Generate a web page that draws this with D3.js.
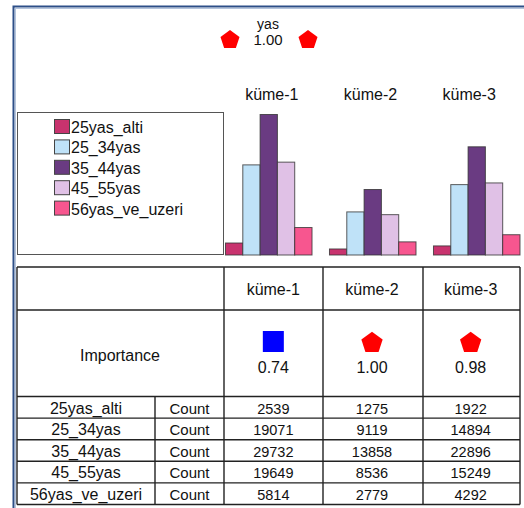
<!DOCTYPE html>
<html><head><meta charset="utf-8">
<script src="https://cdn.jsdelivr.net/npm/d3@7"></script>
<style>body{margin:0;background:#fff}text{font-family:"Liberation Sans",Arial,sans-serif;fill:#111}</style>
</head><body>
<svg id="c" width="524" height="508"></svg>
<script>
// ---- data ----
const variableName = "yas";
const overallImportance = 1.00;
const clusters = ["küme-1", "küme-2", "küme-3"];
const categories = ["25yas_alti", "25_34yas", "35_44yas", "45_55yas", "56yas_ve_uzeri"];
const count25alti = [2539, 1275, 1922];
const count25_34 = [19071, 9119, 14894];
const count35_44 = [29732, 13858, 22896];
const count45_55 = [19649, 8536, 15249];
const count56uzeri = [5814, 2779, 4292];
const importance = [0.74, 1.00, 0.98];
const importanceShape = ["square", "pentagon", "pentagon"];
const statLabel = "Count";
const colors = ["#c8336e", "#bfe2f8", "#6a3b82", "#e0c1e6", "#f7568f"];

const series = [count25alti, count25_34, count35_44, count45_55, count56uzeri];

const svg = d3.select("#c");

// outer frame
svg.append("rect").attr("x", 13.5).attr("y", 6.5).attr("width", 600).attr("height", 600)
  .attr("fill", "none").attr("stroke", "#2d4f88").attr("stroke-width", 2);
svg.append("rect").attr("x", 15.5).attr("y", 8.5).attr("width", 600).attr("height", 600)
  .attr("fill", "none").attr("stroke", "#b4c4dc").attr("stroke-width", 1);

function pentagon(cx, cy, r) {
  const pts = d3.range(5).map(i => {
    const a = -Math.PI / 2 + i * 2 * Math.PI / 5;
    return [cx + r * Math.cos(a), cy + r * Math.sin(a)];
  });
  return d3.line()(pts) + "Z";
}

// header: variable name + overall importance
svg.append("text").attr("x", 268).attr("y", 29).attr("text-anchor", "middle")
  .style("font-size", "14px").text(variableName);
svg.append("text").attr("x", 268).attr("y", 45).attr("text-anchor", "middle")
  .style("font-size", "15px").text(overallImportance.toFixed(2));
[230, 308].forEach(cx => svg.append("path").attr("d", pentagon(cx, 40, 10)).attr("fill", "#ff0000"));

// table columns
const colX = d3.scaleBand().domain(clusters).range([224, 520]);
const rowTop = 267, headerBottom = 310, impBottom = 396.5, rowH = 21.6;
const rowY = d3.scaleBand().domain(categories).range([impBottom, impBottom + rowH * categories.length]);

// cluster labels above bars
svg.selectAll(".cl").data(clusters).join("text")
  .attr("x", d => colX(d) + colX.bandwidth() / 2 - 1.5).attr("y", 100)
  .attr("text-anchor", "middle").style("font-size", "16px").text(d => d);

// legend box
svg.append("rect").attr("x", 17.5).attr("y", 112.5).attr("width", 206).attr("height", 142)
  .attr("fill", "#fff").attr("stroke", "#555").attr("stroke-width", 1);
const lg = svg.selectAll(".lg").data(categories).join("g")
  .attr("transform", (d, i) => `translate(0,${i * 20.4})`);
lg.append("rect").attr("x", 54.5).attr("y", 119.5).attr("width", 15).attr("height", 14)
  .attr("fill", (d, i) => colors[i]).attr("stroke", "#444").attr("stroke-width", 1);
lg.append("text").attr("x", 71).attr("y", 133).style("font-size", "16px").text(d => d);

// bars
const x0 = d3.scaleBand().domain(clusters).range([225, 519.5]).paddingInner(0.168);
const x1 = d3.scaleBand().domain(categories).range([0, x0.bandwidth()]);
const y = d3.scaleLinear().domain([0, d3.max(series.flat())]).range([254.5, 114]);
clusters.forEach((c, ci) => {
  svg.selectAll(null).data(categories).join("rect")
    .attr("x", d => x0(c) + x1(d) + 0.5)
    .attr("y", (d, i) => y(series[i][ci]) + 0.5)
    .attr("width", x1.bandwidth())
    .attr("height", (d, i) => y(0) - y(series[i][ci]))
    .attr("fill", (d, i) => colors[i])
    .attr("stroke", "#333").attr("stroke-opacity", 0.8).attr("stroke-width", 1);
});

// table grid
const tbl = svg.append("g").attr("stroke", "#222").attr("stroke-width", 1.4);
const tableBottom = impBottom + rowH * categories.length;
const hl = [rowTop, headerBottom, impBottom].concat(categories.map(c => rowY(c) + rowH));
hl.forEach(yy => tbl.append("line").attr("x1", 17).attr("x2", 520).attr("y1", yy).attr("y2", yy));
[17, 224, 323, 423, 520].forEach(xx => tbl.append("line").attr("x1", xx).attr("x2", xx).attr("y1", rowTop).attr("y2", tableBottom));
tbl.append("line").attr("x1", 155).attr("x2", 155).attr("y1", impBottom).attr("y2", tableBottom);

// header row
svg.selectAll(".th").data(clusters).join("text")
  .attr("x", d => colX(d) + colX.bandwidth() / 2).attr("y", 295)
  .attr("text-anchor", "middle").style("font-size", "16px").text(d => d);

// importance row
svg.append("text").attr("x", 120).attr("y", 361).attr("text-anchor", "middle")
  .style("font-size", "16px").text("Importance");
clusters.forEach((c, i) => {
  const cx = colX(c) + colX.bandwidth() / 2;
  if (importanceShape[i] === "square") {
    svg.append("rect").attr("x", cx - 10.5).attr("y", 331).attr("width", 21).attr("height", 21).attr("fill", "#0000ff");
  } else {
    svg.append("path").attr("d", pentagon(cx, 343, 11.2)).attr("fill", "#ff0000");
  }
  svg.append("text").attr("x", cx).attr("y", 373).attr("text-anchor", "middle")
    .style("font-size", "16px").text(importance[i].toFixed(2));
});

// data rows
categories.forEach((cat, ri) => {
  const yb = rowY(cat) + rowH - 4.5;
  svg.append("text").attr("x", 86).attr("y", yb).attr("text-anchor", "middle").style("font-size", "16px").text(cat);
  svg.append("text").attr("x", 189.5).attr("y", yb).attr("text-anchor", "middle").style("font-size", "15px").text(statLabel);
  clusters.forEach((c, ci) => {
    svg.append("text").attr("x", colX(c) + colX.bandwidth() / 2).attr("y", yb)
      .attr("text-anchor", "middle").style("font-size", "14.5px").text(series[ri][ci]);
  });
});
</script>
</body></html>
